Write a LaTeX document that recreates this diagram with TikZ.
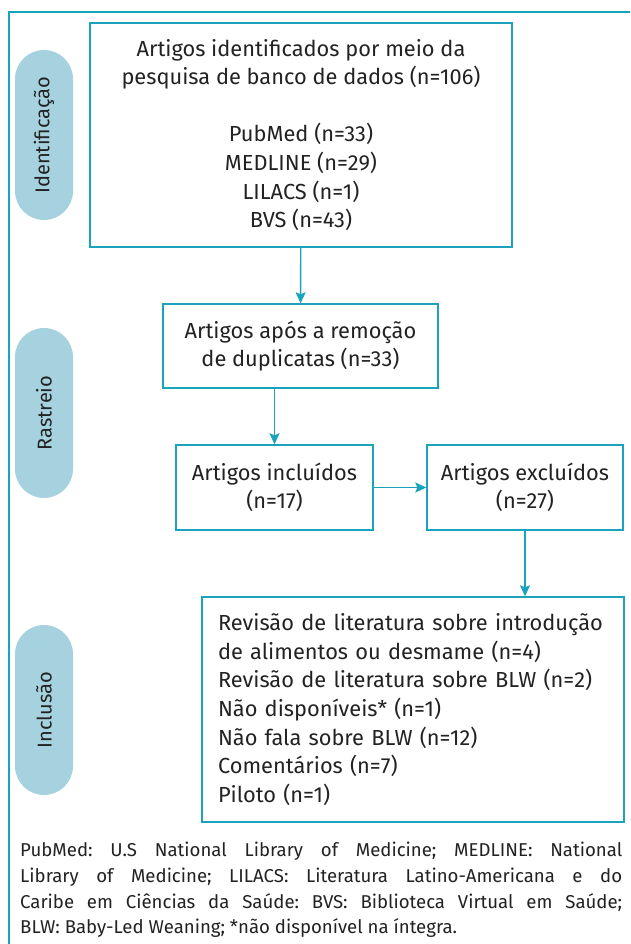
\documentclass[tikz,border=0pt]{standalone}
\usepackage{fontspec}
\setmainfont{Fira Sans}
\usetikzlibrary{positioning,arrows.meta}
\definecolor{frameteal}{HTML}{1AA3BD}
\definecolor{pillblue}{HTML}{A6D2DF}
\definecolor{inkgray}{HTML}{222222}
\frenchspacing
\newcommand{\legendline}[1]{\hbox to 602pt{#1}}
\tikzset{
	stagebox/.style={draw=frameteal, line width=1.4pt, text=inkgray, align=center, inner sep=0pt, font=\fontsize{21.8}{28.6}\selectfont},
	stagepill/.style={fill=pillblue, rounded corners=29pt, minimum width=170pt, minimum height=58pt, inner sep=0pt, rotate=90, text=inkgray, font=\fontsize{20}{24}\selectfont},
	flowarrow/.style={draw=frameteal, line width=1.4pt, -{Stealth[length=11pt, width=10pt, inset=2pt]}}
}

\begin{document}
\begin{tikzpicture}[x=1pt, y=-1pt]
			%%%%% START %%%%%
			
			\clip (0, 0) rectangle (630, 944);
			\fill[white] (0, 0) rectangle (630, 944);
			\draw[draw=frameteal, line width=1.4pt] (9, 12) rectangle (650, 960);
			
			% stages
			\node[stagepill] (ident) at (44, 135) {Identificação};
			\node[stagepill] (rastr) at (44, 413) {Rastreio};
			\node[stagepill] (inclu) at (44, 710) {Inclusão};
			
			% boxes
			\node[stagebox, minimum width=422pt, minimum height=224pt] (found) at (301, 135)
				{Artigos identificados por meio da\\pesquisa de banco de dados (n=106)\\[28.6pt]PubMed (n=33)\\MEDLINE (n=29)\\LILACS (n=1)\\BVS (n=43)};
			\node[stagebox, minimum width=275pt, minimum height=84pt] (nodup) at (300.5, 346)
				{Artigos após a remoção\\de duplicatas (n=33)};
			\node[stagebox, minimum width=197pt, minimum height=85pt] (incl) at (274.5, 487.5)
				{Artigos incluídos\\(n=17)};
			\node[stagebox, minimum width=196pt, minimum height=85pt] (excl) at (525, 487.5)
				{Artigos excluídos\\(n=27)};
			\node[stagebox, minimum width=422pt, minimum height=225pt, text width=390pt, align=left] (reasons) at (413, 709.5)
				{Revisão de literatura sobre introdução\\de alimentos ou desmame (n=4)\\Revisão de literatura sobre BLW (n=2)\\Não disponíveis* (n=1)\\Não fala sobre BLW (n=12)\\Comentários (n=7)\\Piloto (n=1)};
			
			% arrows
			\draw[flowarrow] (found) -- (nodup);
			\draw[flowarrow] (nodup.south -| incl) -- (incl);
			\draw[flowarrow] (incl) -- (excl);
			\draw[flowarrow] (excl) -- (reasons.north -| excl);
			
			% legend
			\node[anchor=north west, inner sep=0pt, align=left, text=inkgray, font=\fontsize{18.6}{25.7}\selectfont] (legend) at (20, 842)
				{\legendline{PubMed: U.S National Library of Medicine; MEDLINE: National}\\
				 \legendline{Library of Medicine; LILACS: Literatura Latino-Americana e do}\\
				 \legendline{Caribe em Ciências da Saúde: BVS: Biblioteca Virtual em Saúde;}\\
				 BLW: Baby-Led Weaning; *não disponível na íntegra.};
			
			%%%%% END %%%%%
\end{tikzpicture}
\end{document}
